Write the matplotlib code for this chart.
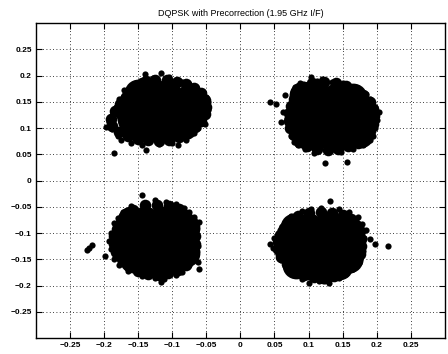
import matplotlib
matplotlib.use("Agg")
import matplotlib.pyplot as plt

title = "DQPSK with Precorrection (1.95 GHz I/F)"
ticks = [-0.25, -0.2, -0.15, -0.1, -0.05, 0, 0.05, 0.1, 0.15, 0.2, 0.25]
tick_labels = ["\u22120.25", "\u22120.2", "\u22120.15", "\u22120.1", "\u22120.05", "0",
               "0.05", "0.1", "0.15", "0.2", "0.25"]

# ================= upper-left symbol cloud =================
ul_core_x = [-0.150, -0.130, -0.108,
             -0.158, -0.135, -0.112, -0.088, -0.075,
             -0.165, -0.142, -0.120, -0.098, -0.075,
             -0.160, -0.137, -0.115, -0.092, -0.078,
             -0.158, -0.140, -0.118, -0.097, -0.082]
ul_core_y = [0.166, 0.166, 0.166,
             0.150, 0.150, 0.150, 0.150, 0.158,
             0.134, 0.134, 0.134, 0.134, 0.134,
             0.118, 0.118, 0.118, 0.118, 0.118,
             0.104, 0.102, 0.102, 0.102, 0.104]
ul_ring_x = [-0.125, -0.108, -0.093, -0.080, -0.068, -0.058, -0.052, -0.050, -0.052,
             -0.058, -0.066, -0.078, -0.090, -0.105, -0.120, -0.135, -0.150, -0.165,
             -0.178, -0.188, -0.190, -0.184, -0.176, -0.168, -0.158, -0.145, -0.138]
ul_ring_y = [0.192, 0.192, 0.188, 0.183, 0.176, 0.166, 0.153, 0.140, 0.127,
             0.114, 0.102, 0.092, 0.083, 0.078, 0.076, 0.077, 0.080, 0.085,
             0.093, 0.104, 0.118, 0.132, 0.146, 0.160, 0.174, 0.185, 0.190]
ul_x = [-0.140, -0.116, -0.128, -0.105, -0.095, -0.085, -0.170, -0.166, -0.178,
        -0.182, -0.188, -0.192, -0.197, -0.188, -0.180, -0.175, -0.185, -0.160,
        -0.139, -0.145, -0.120, -0.100, -0.091, -0.080, -0.068, -0.062, -0.052,
        -0.050, -0.048, -0.048, -0.050, -0.058, -0.065, -0.075, -0.172]
ul_y = [0.202, 0.205, 0.196, 0.197, 0.192, 0.188, 0.172, 0.168, 0.155,
        0.140, 0.125, 0.112, 0.102, 0.098, 0.085, 0.078, 0.052, 0.072,
        0.059, 0.068, 0.070, 0.072, 0.068, 0.078, 0.090, 0.100, 0.108,
        0.122, 0.135, 0.150, 0.160, 0.170, 0.178, 0.183, 0.160]

# ================= upper-right symbol cloud =================
ur_core_x = [0.092, 0.115, 0.140, 0.165,
             0.092, 0.115, 0.138, 0.160,
             0.090, 0.112, 0.134, 0.156, 0.175,
             0.095, 0.117, 0.139, 0.161, 0.175,
             0.097, 0.115, 0.140, 0.160, 0.175]
ur_core_y = [0.162, 0.160, 0.160, 0.160,
             0.144, 0.144, 0.144, 0.144,
             0.124, 0.124, 0.124, 0.124, 0.124,
             0.104, 0.104, 0.104, 0.104, 0.104,
             0.086, 0.086, 0.086, 0.086, 0.088]
ur_ring_x = [0.105, 0.122, 0.140, 0.155, 0.168, 0.180, 0.190, 0.195, 0.196,
             0.194, 0.190, 0.183, 0.172, 0.158, 0.143, 0.128, 0.113, 0.098,
             0.086, 0.078, 0.073, 0.071, 0.072, 0.074, 0.078, 0.082, 0.092]
ur_ring_y = [0.186, 0.188, 0.185, 0.180, 0.172, 0.163, 0.150, 0.136, 0.122,
             0.108, 0.094, 0.082, 0.072, 0.065, 0.060, 0.059, 0.061, 0.066,
             0.074, 0.086, 0.100, 0.114, 0.128, 0.142, 0.156, 0.168, 0.178]
ur_x = [0.043, 0.052, 0.059, 0.066, 0.062, 0.068, 0.072, 0.075, 0.078, 0.085,
        0.103, 0.120, 0.080, 0.088, 0.112, 0.135, 0.150, 0.160, 0.175, 0.185,
        0.190, 0.198, 0.203, 0.200, 0.198, 0.194, 0.190, 0.180, 0.165, 0.157,
        0.148, 0.124, 0.130, 0.108, 0.095, 0.170]
ur_y = [0.149, 0.145, 0.111, 0.162, 0.130, 0.120, 0.100, 0.085, 0.073, 0.068,
        0.197, 0.194, 0.178, 0.185, 0.190, 0.188, 0.185, 0.180, 0.172, 0.165,
        0.155, 0.140, 0.130, 0.115, 0.100, 0.085, 0.077, 0.068, 0.060, 0.036,
        0.055, 0.033, 0.058, 0.053, 0.060, 0.175]

# ================= lower-left symbol cloud =================
ll_core_x = [-0.160, -0.140, -0.115, -0.095,
             -0.160, -0.137, -0.114, -0.091, -0.080,
             -0.165, -0.142, -0.119, -0.096, -0.082,
             -0.160, -0.137, -0.114, -0.091, -0.080,
             -0.158, -0.140, -0.117, -0.097, -0.118]
ll_core_y = [-0.076, -0.076, -0.076, -0.076,
             -0.094, -0.094, -0.094, -0.094, -0.088,
             -0.113, -0.113, -0.113, -0.113, -0.113,
             -0.132, -0.132, -0.132, -0.132, -0.138,
             -0.150, -0.150, -0.150, -0.150, -0.162]
ll_ring_x = [-0.140, -0.123, -0.105, -0.090, -0.080, -0.072, -0.068, -0.066, -0.066,
             -0.068, -0.072, -0.080, -0.092, -0.106, -0.120, -0.135, -0.150, -0.163,
             -0.174, -0.182, -0.186, -0.185, -0.181, -0.175, -0.167, -0.157]
ll_ring_y = [-0.047, -0.046, -0.048, -0.055, -0.065, -0.078, -0.092, -0.106, -0.120,
             -0.134, -0.148, -0.160, -0.170, -0.177, -0.180, -0.178, -0.172, -0.163,
             -0.150, -0.136, -0.121, -0.106, -0.092, -0.079, -0.067, -0.057]
ll_x = [-0.145, -0.109, -0.125, -0.095, -0.160, -0.172, -0.180, -0.185, -0.190,
        -0.192, -0.190, -0.217, -0.222, -0.225, -0.198, -0.185, -0.178, -0.165,
        -0.144, -0.138, -0.125, -0.117, -0.112, -0.095, -0.085, -0.075, -0.060,
        -0.062, -0.065, -0.062, -0.065, -0.060, -0.068, -0.075, -0.082]
ll_y = [-0.028, -0.040, -0.038, -0.045, -0.048, -0.060, -0.072, -0.080, -0.100,
        -0.115, -0.130, -0.122, -0.128, -0.133, -0.143, -0.150, -0.160, -0.172,
        -0.181, -0.178, -0.185, -0.194, -0.188, -0.180, -0.175, -0.160, -0.169,
        -0.155, -0.140, -0.125, -0.110, -0.079, -0.070, -0.060, -0.052]

# ================= lower-right symbol cloud =================
lr_core_x = [0.078, 0.100, 0.125, 0.148,
             0.080, 0.103, 0.126, 0.150, 0.160,
             0.075, 0.098, 0.121, 0.144, 0.160,
             0.082, 0.105, 0.128, 0.150, 0.160,
             0.082, 0.100, 0.125, 0.145, 0.122]
lr_core_y = [-0.088, -0.088, -0.088, -0.088,
             -0.106, -0.106, -0.106, -0.106, -0.095,
             -0.125, -0.125, -0.125, -0.125, -0.125,
             -0.144, -0.144, -0.144, -0.144, -0.150,
             -0.160, -0.162, -0.162, -0.162, -0.170]
lr_ring_x = [0.100, 0.118, 0.135, 0.150, 0.162, 0.170, 0.175, 0.177, 0.177,
             0.175, 0.171, 0.163, 0.152, 0.138, 0.123, 0.108, 0.093, 0.080,
             0.069, 0.060, 0.055, 0.055, 0.058, 0.064, 0.073, 0.085]
lr_ring_y = [-0.062, -0.060, -0.062, -0.066, -0.073, -0.084, -0.097, -0.111, -0.125,
             -0.139, -0.153, -0.165, -0.175, -0.182, -0.185, -0.184, -0.179, -0.170,
             -0.158, -0.145, -0.131, -0.117, -0.103, -0.090, -0.078, -0.068]
lr_x = [0.132, 0.104, 0.118, 0.145, 0.160, 0.090, 0.075, 0.065, 0.058, 0.050,
        0.043, 0.048, 0.055, 0.060, 0.068, 0.080, 0.090, 0.100, 0.115, 0.130,
        0.145, 0.155, 0.165, 0.175, 0.180, 0.182, 0.185, 0.172, 0.197, 0.190,
        0.217, 0.178]
lr_y = [-0.039, -0.055, -0.052, -0.055, -0.060, -0.058, -0.068, -0.080, -0.095, -0.110,
        -0.120, -0.128, -0.140, -0.152, -0.165, -0.175, -0.188, -0.196, -0.192, -0.195,
        -0.185, -0.175, -0.165, -0.150, -0.135, -0.110, -0.095, -0.070, -0.120, -0.112,
        -0.124, -0.082]

plt.rcParams['font.family'] = ['Liberation Sans', 'DejaVu Sans']

fig = plt.figure(figsize=(4.48, 3.54), dpi=100)
ax = fig.add_axes([0.080, 0.045, 0.913, 0.890])

core_s = 400
ring_s = 70
dot_s = 20
clouds = [(ul_core_x, ul_core_y, ul_ring_x, ul_ring_y, ul_x, ul_y),
          (ur_core_x, ur_core_y, ur_ring_x, ur_ring_y, ur_x, ur_y),
          (ll_core_x, ll_core_y, ll_ring_x, ll_ring_y, ll_x, ll_y),
          (lr_core_x, lr_core_y, lr_ring_x, lr_ring_y, lr_x, lr_y)]
for cx, cy, rx, ry, ex, ey in clouds:
    ax.scatter(cx, cy, s=core_s, c='black', marker='o', linewidths=0, zorder=3)
    ax.scatter(rx, ry, s=ring_s, c='black', marker='o', linewidths=0, zorder=3)
    ax.scatter(ex, ey, s=dot_s, c='black', marker='o', linewidths=0, zorder=3)

ax.set_xlim(-0.3, 0.3)
ax.set_ylim(-0.3, 0.3)
ax.set_xticks(ticks)
ax.set_xticklabels(tick_labels)
ax.set_yticks(ticks)
ax.set_yticklabels(tick_labels)
ax.grid(True, color='black', linestyle=(0, (1, 3)), linewidth=0.6)
ax.set_axisbelow(True)
ax.tick_params(direction='in', length=4, width=0.8, top=True, right=True,
               labelsize=6, pad=3)
for lab in ax.get_xticklabels() + ax.get_yticklabels():
    lab.set_fontweight('bold')
for sp in ax.spines.values():
    sp.set_linewidth(1.0)
ax.set_title(title, fontsize=6.5, pad=5)

fig.savefig("out.png", dpi=100)
